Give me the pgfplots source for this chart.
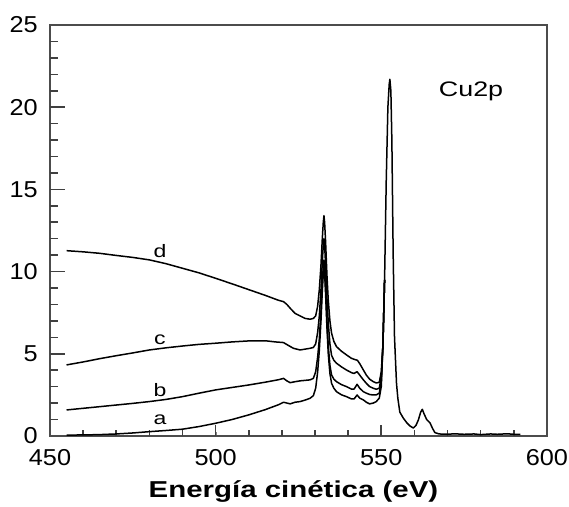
\documentclass[border=0pt]{standalone}
\usepackage{fontspec}
\setmainfont{Liberation Sans}[FakeStretch=1.1]
\newfontfamily\wfont{Liberation Sans}[FakeStretch=1.28]
\usepackage{pgfplots}
\pgfplotsset{compat=1.18}
\begin{document}
\begin{tikzpicture}
\begin{axis}[
  name=main,
  scale only axis, width=497pt, height=411pt,
  xmin=450, xmax=600, ymin=0, ymax=25,
  clip=false,
  xtick={450,500,550,600}, ytick={0,5,10,15,20,25},
  xtick pos=bottom, ytick pos=left, tick align=inside,
  axis line style={black!70, line width=1.4pt},
  /pgf/number format/assume math mode=true,
  tick label style={font=\fontsize{23}{23}\selectfont, inner sep=1pt},
  xticklabel style={yshift=-12pt},
  yticklabel style={xshift=-11pt},
  xlabel={\wfont\bfseries Energía cinética (eV)},
  xlabel style={at={(axis description cs:0.49,0)}, anchor=base, yshift=-62pt, font=\fontsize{23}{23}\selectfont},
]
% ticks
\pgfplotsinvokeforeach{500,550}{\draw[black!75, line width=1.6pt] (axis cs:#1,0) -- ++(0pt,11pt);}
\pgfplotsinvokeforeach{460,470,480,490,510,520,530,540,560,570,580,590}{\draw[black!75, line width=1.6pt] (axis cs:#1,0) -- ++(0pt,6pt);}
\pgfplotsinvokeforeach{5,10,15,20}{\draw[black!75, line width=1.6pt] (axis cs:450,#1) -- ++(15pt,0pt);}
\pgfplotsinvokeforeach{1,2,3,4,6,7,8,9,11,12,13,14,16,17,18,19,21,22,23,24}{\draw[black!75, line width=1.6pt] (axis cs:450,#1) -- ++(8pt,0pt);}
% curve d
\addplot[black, no markers, line width=1.5pt, line join=round] coordinates {(455,11.27)(460,11.2)(465,11.11)(470,10.98)(475,10.86)(480,10.71)(485,10.48)(490,10.20)(495,9.92)(500,9.59)(505,9.25)(510,8.9)(515,8.55)(519,8.25)(520.5,8.17)(521.5,8.0)(522.5,7.77)(524,7.45)(525.5,7.3)(527,7.15)(528.5,7.1)(529.5,7.15)(530.2,7.3)(530.8,7.9)(531.3,8.9)(531.8,10.4)(532.2,12.0)(532.5,13.0)(532.7,13.4)(532.9,13.0)(533.2,11.8)(533.6,9.8)(534.0,8.27)(534.5,7.0)(535,6.25)(535.7,5.75)(536.5,5.43)(538,5.15)(539.5,4.93)(541,4.72)(542,4.65)(542.8,4.6)(543.5,4.4)(544.6,4.01)(545.5,3.7)(546.5,3.45)(547.6,3.30)(548.5,3.22)(549.4,3.26)(550.0,3.9)(550.5,5.5)(551.0,9.5)(551.5,15.5)(552.0,20.0)(552.4,21.4)(552.6,21.7)(552.9,21.0)(553.2,18.0)(553.6,11.0)(554.0,6.0)(554.6,3.2)(555.0,2.3)(555.6,1.45)(556.6,1.1)(557.7,0.8)(558.7,0.6)(559.7,0.48)(560.5,0.65)(561.2,0.97)(561.9,1.45)(562.4,1.62)(562.9,1.35)(563.7,1.0)(564.7,0.8)(565.5,0.45)(566.2,0.2)(567.5,0.12)(570,0.1)(572,0.13)(575,0.1)(578,0.12)(580,0.08)(583,0.12)(585,0.1)(588,0.13)(590,0.1)(592,0.1)};
% curve c
\addplot[black, no markers, line width=1.5pt, line join=round] coordinates {(455,4.32)(460,4.5)(465,4.7)(470,4.88)(475,5.05)(480,5.23)(485,5.36)(490,5.47)(495,5.57)(500,5.64)(505,5.72)(510,5.78)(515,5.79)(518,5.72)(520.5,5.68)(522,5.5)(523.5,5.33)(525.5,5.23)(527,5.28)(528.5,5.33)(529.5,5.38)(530.2,5.6)(530.8,6.3)(531.3,7.3)(531.8,8.9)(532.2,10.6)(532.5,11.6)(532.7,12.0)(532.9,11.6)(533.2,10.4)(533.6,8.4)(534.0,6.9)(534.5,5.6)(535,4.9)(535.7,4.6)(536.5,4.42)(538,4.2)(539.5,4.01)(541,3.85)(541.8,3.8)(542.7,3.91)(543.5,3.7)(544.6,3.41)(545.5,3.2)(546.5,3.0)(547.6,2.90)(548.5,2.84)(549.4,2.9)(550.0,3.6)(550.5,5.5)(551.0,9.5)};
% curve b
\addplot[black, no markers, line width=1.5pt, line join=round] coordinates {(455,1.58)(460,1.68)(465,1.78)(470,1.88)(475,1.98)(480,2.09)(485,2.22)(490,2.39)(495,2.6)(500,2.80)(505,2.95)(510,3.10)(515,3.27)(519,3.42)(520.5,3.5)(521.5,3.35)(522.5,3.24)(524,3.3)(525.5,3.35)(527,3.38)(528.5,3.41)(529.5,3.5)(530.2,3.9)(530.8,4.8)(531.3,5.9)(531.8,7.6)(532.2,9.3)(532.5,10.3)(532.7,10.7)(532.9,10.3)(533.2,9.0)(533.6,7.0)(534.0,5.5)(534.5,4.3)(535,3.71)(535.7,3.45)(536.5,3.30)(538,3.12)(539.5,3.0)(541,2.85)(541.8,2.85)(542.7,3.14)(543.5,2.9)(544.6,2.69)(545.5,2.6)(546.5,2.52)(547.6,2.49)(548.5,2.5)(549.4,2.6)(550.0,3.3)(550.5,5.5)(551.0,9.5)};
% curve a
\addplot[black, no markers, line width=1.5pt, line join=round] coordinates {(455,0.05)(460,0.06)(465,0.08)(470,0.12)(475,0.18)(480,0.26)(485,0.33)(490,0.41)(495,0.57)(500,0.77)(505,1.0)(510,1.28)(515,1.6)(519,1.9)(520.5,2.05)(521.5,2.0)(522.5,1.95)(524,2.05)(525.5,2.09)(527,2.18)(528.5,2.29)(529.5,2.45)(530.2,2.9)(530.8,3.9)(531.3,5.2)(531.8,7.0)(532.2,8.8)(532.5,9.9)(532.7,10.3)(532.9,9.9)(533.2,8.6)(533.6,6.6)(534.0,5.0)(534.5,3.8)(535,3.2)(535.7,2.9)(536.5,2.69)(538,2.5)(539.5,2.39)(541,2.25)(541.8,2.25)(542.7,2.49)(543.5,2.3)(544.6,2.19)(545.5,2.05)(546.5,1.95)(547.6,2.0)(548.5,2.09)(549.4,2.3)(550.0,3.0)(550.5,5.5)(551.0,9.5)};
\node[anchor=base, font=\wfont\fontsize{18}{18}\selectfont] at (axis cs:483.2,10.83) {d};
\node[anchor=base, font=\wfont\fontsize{18}{18}\selectfont] at (axis cs:483.2,5.54) {c};
\node[anchor=base, font=\wfont\fontsize{18}{18}\selectfont] at (axis cs:483.2,2.39) {b};
\node[anchor=base, font=\wfont\fontsize{18}{18}\selectfont] at (axis cs:483.2,0.67) {a};
\node[anchor=base, font=\wfont\fontsize{21}{21}\selectfont] at (axis cs:577.1,20.68) {Cu2p};
\end{axis}
\path ([shift={(-50pt,-68pt)}]main.south west) rectangle ([shift={(22pt,25pt)}]main.north east);
\end{tikzpicture}
\end{document}
